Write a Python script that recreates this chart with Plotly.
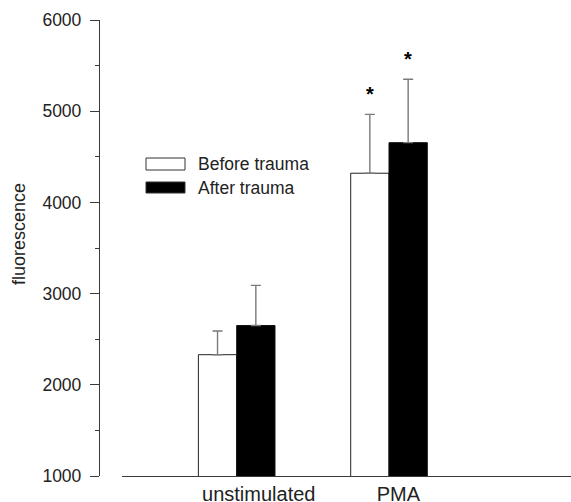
import plotly.graph_objects as go

# ---- data ----
categories = ["unstimulated", "PMA"]
series_names = ["Before trauma", "After trauma"]
before_mean = [2330, 4320]
before_err = [260, 645]
after_mean = [2650, 4655]
after_err = [440, 695]
before_sig = [False, True]
after_sig = [False, True]
y_ticks = [1000, 2000, 3000, 4000, 5000, 6000]

W, H = 571, 502
ML, MR, MT, MB = 99, 0, 20, 26
PW, PH = W - ML - MR, H - MT - MB
FONT = "Liberation Sans, Arial, Helvetica, sans-serif"
AXC = "#3a3a3a"

def px_x(px):
    return (px - ML) / PW

def px_y(py):
    return 1 - (py - MT) / PH

xpos = list(range(1, len(categories) + 1))

fig = go.Figure()
fig.add_trace(go.Bar(
    x=xpos, y=before_mean, name=series_names[0],
    marker=dict(color="white", line=dict(color="#222", width=1)),
    error_y=dict(type="data", array=before_err, arrayminus=[0] * len(before_err),
                 color="#7a7a7a", thickness=1.4, width=5),
    showlegend=False,
))
fig.add_trace(go.Bar(
    x=xpos, y=after_mean, name=series_names[1],
    marker=dict(color="black", line=dict(color="#111", width=1)),
    error_y=dict(type="data", array=after_err, arrayminus=[0] * len(after_err),
                 color="#7a7a7a", thickness=1.4, width=5),
    showlegend=False,
))

# significance stars
bar_off = 0.2515 / 2
for i, x in enumerate(xpos):
    for sig, m, e, off in ((before_sig[i], before_mean[i], before_err[i], -bar_off),
                           (after_sig[i], after_mean[i], after_err[i], bar_off)):
        if sig:
            fig.add_annotation(x=x + off, y=m + e, text="<b>*</b>", showarrow=False,
                               yshift=20, font=dict(size=20, color="black", family=FONT))

# legend drawn manually (wide swatches)
sw = [(158, 170, "white"), (182, 193, "black")]
for (y0, y1, col), name in zip(sw, series_names):
    fig.add_shape(type="rect", xref="paper", yref="paper",
                  x0=px_x(146), x1=px_x(185), y0=px_y(y1), y1=px_y(y0),
                  fillcolor=col, line=dict(color="#333", width=1))
    fig.add_annotation(xref="paper", yref="paper", x=px_x(196), y=px_y((y0 + y1) / 2),
                       text=name, showarrow=False, xanchor="left", yanchor="middle",
                       font=dict(size=17.5, color="#222", family=FONT))

# y-axis title
fig.add_annotation(xref="paper", yref="paper", x=px_x(19), y=px_y(234),
                   text="fluorescence", textangle=-90, showarrow=False,
                   xanchor="center", yanchor="middle",
                   font=dict(size=18, color="#222", family=FONT))

label_shift = [0.145, 0.062]
fig.update_layout(
    width=W, height=H,
    margin=dict(l=ML, r=MR, t=MT, b=MB, autoexpand=False),
    paper_bgcolor="white", plot_bgcolor="white",
    barmode="group", bargap=0.497, bargroupgap=0,
    font=dict(family=FONT, color="#222"),
    xaxis=dict(
        domain=[px_x(122), 1], range=[0.247, 3.195],
        tickvals=[x + s for x, s in zip(xpos, label_shift)], ticktext=categories,
        ticks="", showgrid=False, zeroline=False,
        showline=True, linecolor=AXC, linewidth=1.3,
        tickfont=dict(size=20, color="#222", family=FONT),
        ticklabelstandoff=0,
        automargin=False,
    ),
    yaxis=dict(
        anchor="free", position=0, range=[1000, 6000],
        tickvals=y_ticks, ticks="outside", ticklen=9, tickwidth=1.3, tickcolor=AXC,
        minor=dict(dtick=500, ticks="outside", ticklen=4, tickwidth=1.3, tickcolor=AXC, showgrid=False),
        showgrid=False, zeroline=False,
        showline=True, linecolor=AXC, linewidth=1.3,
        tickfont=dict(size=17.5, color="#222", family=FONT),
        ticklabelstandoff=5,
        automargin=False,
    ),
)

fig.write_html("out.html", config={"displayModeBar": False},
               post_script="document.body.style.margin='0';")
